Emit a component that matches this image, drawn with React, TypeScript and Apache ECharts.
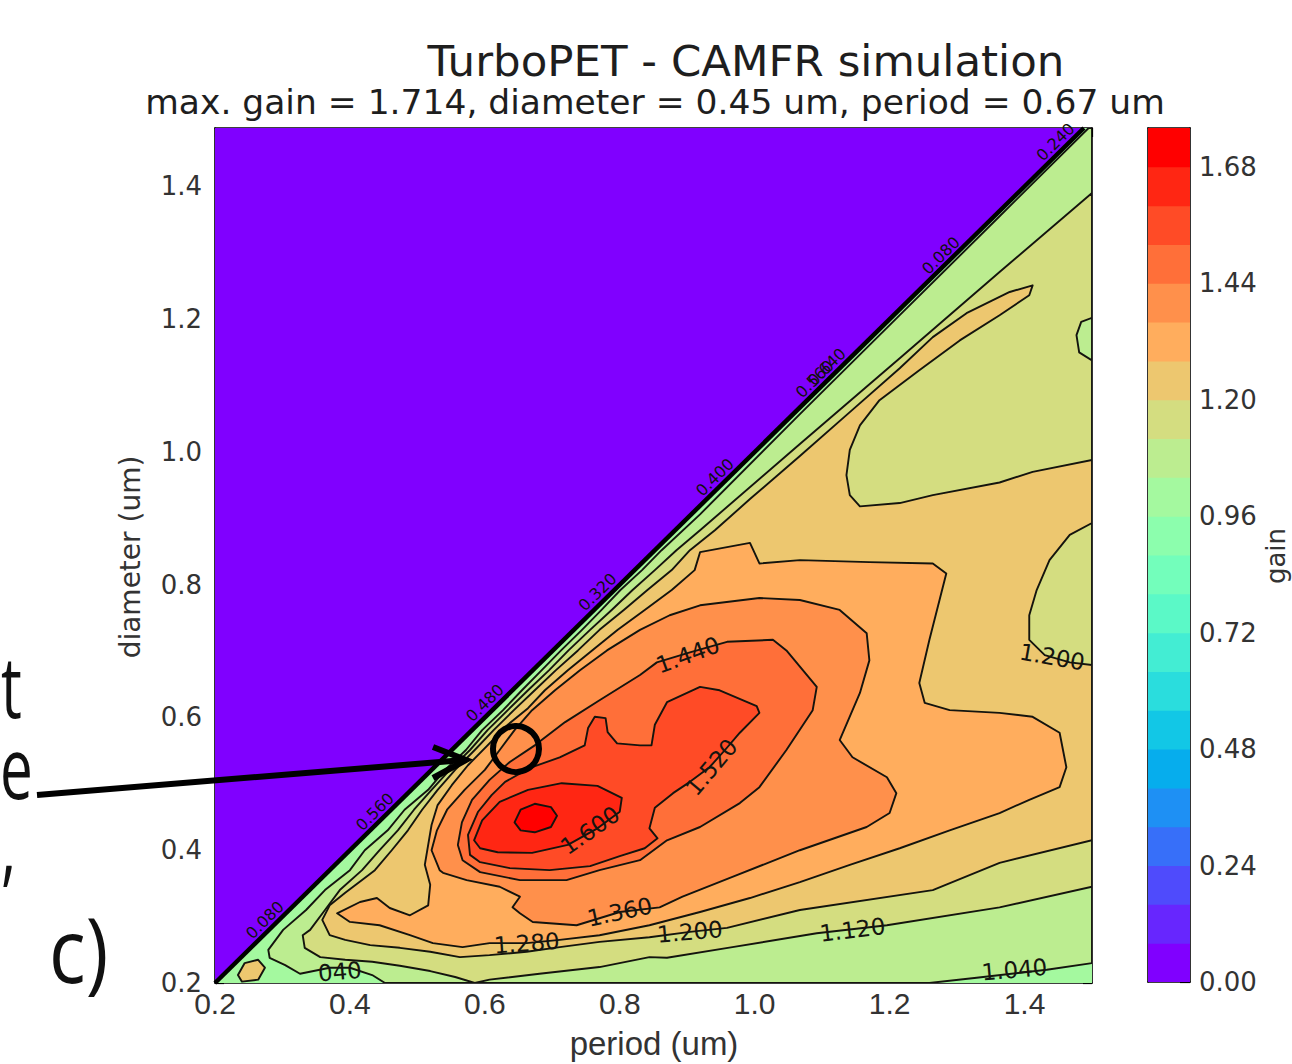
import React, { useEffect, useRef } from "react";
import * as echarts from "echarts";

// ---------------- data (period / diameter in um, gain levels) ----------------
const gainLevels = [0.0, 0.08, 0.16, 0.24, 0.32, 0.4, 0.48, 0.56, 0.64, 0.72, 0.8, 0.88, 0.96, 1.04, 1.12, 1.2, 1.28, 1.36, 1.44, 1.52, 1.6, 1.68, 1.76];
const colorbarTickStep = 0.24;

// region where diameter > period (gain = 0)
const zeroRegion = [[0.2, 0.2], [0.2, 1.488], [1.488, 1.488]];
// remaining valid triangle (lowest visible band)
const lowerRegion = [[0.2, 0.2], [1.488, 1.488], [1.5, 1.488], [1.5, 0.2]];
// converged low-gain contours along the diagonal
const diagonalContour = [[0.2, 0.2], [1.488, 1.488]];

const cornerPatch120 = [[0.234, 0.212], [0.244, 0.23], [0.264, 0.235], [0.274, 0.223], [0.264, 0.205], [0.24, 0.202]];

const region104 = [[1.495, 1.488], [1.5, 1.488], [1.5, 0.23], [1.433, 0.22], [1.329, 0.208], [1.259, 0.2], [0.452, 0.2], [0.433, 0.212], [0.4, 0.223], [0.37, 0.223], [0.326, 0.214], [0.304, 0.227], [0.281, 0.238], [0.279, 0.25], [0.301, 0.28], [0.335, 0.31], [0.363, 0.34], [0.4, 0.37], [0.422, 0.4], [0.456, 0.43], [0.481, 0.461], [0.516, 0.491], [0.541, 0.521], [0.572, 0.551], [0.596, 0.581], [0.627, 0.611], [0.655, 0.641], [0.684, 0.671], [0.713, 0.701], [0.744, 0.732], [0.773, 0.762], [0.801, 0.792], [0.833, 0.822], [0.862, 0.852], [0.919, 0.906], [1.067, 1.057], [1.215, 1.206], [1.363, 1.355]];

const region112 = [[1.5, 1.39], [1.5, 0.345], [1.363, 0.314], [1.196, 0.287], [1.092, 0.275], [0.967, 0.254], [0.87, 0.238], [0.844, 0.239], [0.77, 0.224], [0.681, 0.214], [0.607, 0.205], [0.585, 0.2], [0.556, 0.209], [0.519, 0.218], [0.474, 0.226], [0.433, 0.232], [0.393, 0.235], [0.356, 0.239], [0.333, 0.253], [0.33, 0.272], [0.341, 0.28], [0.363, 0.31], [0.385, 0.34], [0.418, 0.37], [0.444, 0.4], [0.471, 0.43], [0.495, 0.461], [0.521, 0.491], [0.548, 0.521], [0.578, 0.551], [0.604, 0.581], [0.634, 0.611], [0.664, 0.641], [0.695, 0.671], [0.724, 0.701], [0.756, 0.732], [0.788, 0.762], [0.819, 0.792], [0.852, 0.822], [0.884, 0.852], [0.919, 0.882], [1.067, 1.012], [1.215, 1.141], [1.363, 1.271]];

const island104 = [[1.5, 1.202], [1.484, 1.196], [1.477, 1.176], [1.481, 1.15], [1.5, 1.138]];

const region120 = [[1.412, 1.251], [1.378, 1.241], [1.314, 1.209], [1.264, 1.173], [1.215, 1.126], [1.141, 1.06], [1.067, 0.994], [0.993, 0.929], [0.941, 0.882], [0.904, 0.852], [0.877, 0.822], [0.841, 0.792], [0.806, 0.762], [0.77, 0.732], [0.738, 0.701], [0.705, 0.671], [0.674, 0.641], [0.643, 0.611], [0.613, 0.581], [0.585, 0.551], [0.556, 0.521], [0.53, 0.491], [0.507, 0.461], [0.486, 0.43], [0.462, 0.4], [0.437, 0.37], [0.418, 0.355], [0.393, 0.336], [0.37, 0.317], [0.359, 0.295], [0.37, 0.272], [0.393, 0.265], [0.43, 0.257], [0.474, 0.253], [0.519, 0.247], [0.563, 0.239], [0.607, 0.242], [0.662, 0.247], [0.711, 0.254], [0.77, 0.262], [0.844, 0.269], [0.904, 0.277], [0.959, 0.283], [1.067, 0.31], [1.264, 0.34], [1.363, 0.381], [1.5, 0.415], [1.5, 0.679], [1.467, 0.683], [1.43, 0.694], [1.407, 0.717], [1.407, 0.754], [1.418, 0.792], [1.437, 0.837], [1.467, 0.875], [1.5, 0.893], [1.5, 0.988], [1.412, 0.97], [1.363, 0.954], [1.264, 0.935], [1.215, 0.923], [1.156, 0.918], [1.141, 0.935], [1.136, 0.965], [1.141, 1.003], [1.156, 1.04], [1.185, 1.078], [1.244, 1.123], [1.304, 1.168], [1.363, 1.206], [1.407, 1.236]];

const region128 = [[0.381, 0.305], [0.415, 0.322], [0.44, 0.328], [0.459, 0.313], [0.489, 0.302], [0.516, 0.317], [0.519, 0.348], [0.511, 0.378], [0.516, 0.408], [0.521, 0.438], [0.53, 0.468], [0.551, 0.498], [0.575, 0.528], [0.604, 0.558], [0.634, 0.589], [0.664, 0.614], [0.689, 0.641], [0.723, 0.671], [0.759, 0.701], [0.797, 0.732], [0.837, 0.762], [0.877, 0.792], [0.911, 0.822], [0.919, 0.849], [0.993, 0.863], [1.007, 0.832], [1.067, 0.837], [1.17, 0.834], [1.264, 0.832], [1.284, 0.817], [1.274, 0.777], [1.259, 0.717], [1.244, 0.652], [1.252, 0.622], [1.289, 0.611], [1.363, 0.607], [1.412, 0.601], [1.452, 0.577], [1.462, 0.525], [1.452, 0.495], [1.407, 0.476], [1.363, 0.456], [1.289, 0.43], [1.215, 0.403], [1.141, 0.378], [1.067, 0.352], [0.993, 0.328], [0.919, 0.307], [0.844, 0.287], [0.77, 0.272], [0.711, 0.265], [0.662, 0.26], [0.607, 0.26], [0.567, 0.254], [0.523, 0.26], [0.489, 0.272], [0.444, 0.287], [0.4, 0.292]];

const region136 = [[0.533, 0.37], [0.521, 0.4], [0.529, 0.43], [0.544, 0.461], [0.57, 0.491], [0.6, 0.521], [0.622, 0.551], [0.644, 0.581], [0.67, 0.611], [0.704, 0.641], [0.741, 0.671], [0.781, 0.701], [0.83, 0.732], [0.874, 0.754], [0.919, 0.769], [1.007, 0.78], [1.067, 0.777], [1.126, 0.762], [1.166, 0.727], [1.17, 0.686], [1.156, 0.637], [1.126, 0.566], [1.145, 0.54], [1.196, 0.51], [1.21, 0.486], [1.2, 0.456], [1.166, 0.435], [1.067, 0.4], [0.967, 0.36], [0.893, 0.33], [0.859, 0.314], [0.8, 0.307], [0.736, 0.287], [0.671, 0.292], [0.652, 0.305], [0.641, 0.314], [0.652, 0.33], [0.622, 0.345], [0.573, 0.355], [0.538, 0.366]];

const region144 = [[0.56, 0.408], [0.566, 0.442], [0.581, 0.476], [0.607, 0.506], [0.637, 0.533], [0.674, 0.558], [0.719, 0.593], [0.77, 0.626], [0.83, 0.664], [0.855, 0.683], [0.904, 0.698], [0.959, 0.714], [1.027, 0.717], [1.047, 0.701], [1.092, 0.646], [1.086, 0.611], [1.047, 0.551], [1.007, 0.495], [0.978, 0.471], [0.919, 0.435], [0.87, 0.415], [0.83, 0.385], [0.77, 0.37], [0.721, 0.355], [0.652, 0.355], [0.593, 0.367], [0.567, 0.385]];

const region152 = [[0.578, 0.393], [0.575, 0.423], [0.59, 0.458], [0.61, 0.483], [0.63, 0.503], [0.667, 0.524], [0.711, 0.54], [0.748, 0.558], [0.753, 0.584], [0.763, 0.601], [0.779, 0.599], [0.782, 0.578], [0.796, 0.561], [0.83, 0.558], [0.847, 0.558], [0.852, 0.589], [0.87, 0.623], [0.919, 0.646], [0.948, 0.641], [1.003, 0.617], [1.007, 0.607], [0.978, 0.577], [0.956, 0.551], [0.933, 0.525], [0.904, 0.503], [0.879, 0.486], [0.852, 0.464], [0.844, 0.433], [0.856, 0.418], [0.837, 0.403], [0.8, 0.391], [0.756, 0.376], [0.696, 0.37], [0.637, 0.373], [0.593, 0.382]];

const region160 = [[0.584, 0.415], [0.596, 0.445], [0.622, 0.473], [0.664, 0.491], [0.714, 0.501], [0.767, 0.497], [0.803, 0.479], [0.8, 0.458], [0.767, 0.433], [0.723, 0.408], [0.67, 0.396], [0.619, 0.397], [0.593, 0.403]];

const region168 = [[0.644, 0.442], [0.653, 0.461], [0.674, 0.47], [0.698, 0.465], [0.707, 0.452], [0.698, 0.435], [0.674, 0.427], [0.653, 0.43]];

// contour labels
const contourLabelText = ["1.600", "1.520", "1.440", "1.360", "1.280", "1.200", "1.120", "1.040", "1.200", "040"];
const contourLabelPeriod = [0.756, 0.936, 0.901, 0.8, 0.662, 0.904, 1.145, 1.385, 1.441, 0.385];
const contourLabelDiameter = [0.43, 0.525, 0.694, 0.307, 0.26, 0.277, 0.28, 0.22, 0.691, 0.217];
const contourLabelAngle = [35, 50, 20, 12, 4, 5, 7, 5, -10, 5];

// small labels of the converged low contours along the diagonal
const diagLabelText = ["0.240", "0.080", "0.640", "0.560", "0.400", "0.320", "0.480", "0.560", "0.080"];
const diagLabelPeriod = [1.446, 1.276, 1.107, 1.089, 0.941, 0.767, 0.6, 0.437, 0.274];
const diagLabelDiameter = [1.467, 1.296, 1.128, 1.11, 0.962, 0.789, 0.622, 0.458, 0.295];

const titleText = "TurboPET - CAMFR simulation";
const subtitleText = "max. gain = 1.714, diameter = 0.45 um, period = 0.67 um";

// ---------------- styling helpers ----------------
function rainbow(t: number): string {
  const c = (v: number) => Math.max(0, Math.min(1, v));
  const r = c(Math.abs(2 * t - 0.5));
  const g = c(Math.sin(Math.PI * t));
  const b = c(Math.cos((Math.PI * t) / 2));
  return `rgb(${Math.round(r * 255)},${Math.round(g * 255)},${Math.round(b * 255)})`;
}
const nBands = gainLevels.length - 1;
function bandIndex(level: number): number {
  let best = 0;
  gainLevels.forEach((l, i) => {
    if (Math.abs(l - level) < Math.abs(gainLevels[best] - level)) best = i;
  });
  return best;
}
function bandColor(level: number): string {
  return rainbow(bandIndex(level) / (nBands - 1));
}

const patches = [
  { level: 0.0, pts: zeroRegion, line: false },
  { level: 0.96, pts: lowerRegion, line: false },
  { level: 1.2, pts: cornerPatch120, line: true },
  { level: 1.04, pts: region104, line: true },
  { level: 1.12, pts: region112, line: true },
  { level: 1.04, pts: island104, line: true },
  { level: 1.2, pts: region120, line: true },
  { level: 1.28, pts: region128, line: true },
  { level: 1.36, pts: region136, line: true },
  { level: 1.44, pts: region144, line: true },
  { level: 1.52, pts: region152, line: true },
  { level: 1.6, pts: region160, line: true },
  { level: 1.68, pts: region168, line: true },
];

const LINE = "#14140e";

export default function App() {
  const ref = useRef<HTMLDivElement>(null);
  useEffect(() => {
    if (!ref.current) return;
    const chart = echarts.init(ref.current, null, { renderer: "svg" });
    const frameAxis = { show: true, onZero: false, lineStyle: { color: "#000", width: 1.6 } };
    const option: any = {
      animation: false,
      backgroundColor: "#fff",
      grid: [
        { left: 215, top: 128, width: 877, height: 855 },
        { left: 1148, top: 128, width: 42, height: 854 },
      ],
      xAxis: [
        {
          gridIndex: 0, type: "value", min: 0.2, max: 1.5, interval: 0.2, position: "bottom",
          axisLine: frameAxis,
          axisTick: { show: true, inside: true, length: 9, lineStyle: { color: "#000", width: 1.2 } },
          axisLabel: { fontSize: 30, fontFamily: "Liberation Sans", color: "#333", margin: 5, showMaxLabel: false, formatter: (v: number) => v.toFixed(1) },
          splitLine: { show: false },
        },
        {
          gridIndex: 0, type: "value", min: 0.2, max: 1.5, interval: 0.2, position: "top",
          axisLine: frameAxis,
          axisTick: { show: true, inside: true, length: 9, lineStyle: { color: "#000", width: 1.2 } },
          axisLabel: { show: false }, splitLine: { show: false },
        },
        { gridIndex: 1, type: "value", min: 0, max: 1, position: "bottom", axisLine: frameAxis, axisTick: { show: false }, axisLabel: { show: false }, splitLine: { show: false } },
        { gridIndex: 1, type: "value", min: 0, max: 1, position: "top", axisLine: frameAxis, axisTick: { show: false }, axisLabel: { show: false }, splitLine: { show: false } },
      ],
      yAxis: [
        {
          gridIndex: 0, type: "value", min: 0.2, max: 1.488, interval: 0.2, position: "left",
          axisLine: frameAxis,
          axisTick: { show: true, inside: true, length: 9, lineStyle: { color: "#000", width: 1.2 } },
          axisLabel: { fontSize: 26, fontFamily: "DejaVu Sans", color: "#333", margin: 13, showMaxLabel: false, formatter: (v: number) => v.toFixed(1) },
          splitLine: { show: false },
        },
        {
          gridIndex: 0, type: "value", min: 0.2, max: 1.488, interval: 0.2, position: "right",
          axisLine: frameAxis,
          axisTick: { show: true, inside: true, length: 9, lineStyle: { color: "#000", width: 1.2 } },
          axisLabel: { show: false }, splitLine: { show: false },
        },
        {
          gridIndex: 1, type: "value", min: 0, max: 1.76, interval: colorbarTickStep, position: "right",
          axisLine: frameAxis,
          axisTick: { show: true, inside: true, length: 10, lineStyle: { color: "#000", width: 1.2 } },
          axisLabel: { fontSize: 26, fontFamily: "DejaVu Sans", color: "#333", margin: 9, showMaxLabel: false, formatter: (v: number) => v.toFixed(2) },
          splitLine: { show: false },
        },
        { gridIndex: 1, type: "value", min: 0, max: 1.76, position: "left", axisLine: frameAxis, axisTick: { show: false }, axisLabel: { show: false }, splitLine: { show: false } },
      ],
      series: [
        {
          type: "custom", xAxisIndex: 0, yAxisIndex: 0, z: 2, clip: true, silent: true,
          data: patches.map((p, i) => [p.pts[0][0], p.pts[0][1], i]),
          renderItem: (params: any, api: any) => {
            const patch = patches[params.dataIndex];
            return {
              type: "polygon",
              z2: params.dataIndex,
              shape: { points: patch.pts.map((pt) => api.coord(pt)) },
              style: { fill: bandColor(patch.level), stroke: patch.line ? LINE : null, lineWidth: patch.line ? 1.9 : 0, lineJoin: "round" },
            };
          },
        },
        {
          type: "line", xAxisIndex: 0, yAxisIndex: 0, z: 3, silent: true, symbol: "none",
          data: diagonalContour, lineStyle: { color: "#000", width: 4.5 },
        },
        {
          type: "custom", xAxisIndex: 0, yAxisIndex: 0, z: 4, silent: true,
          data: contourLabelText.map((t, i) => [contourLabelPeriod[i], contourLabelDiameter[i]]),
          renderItem: (params: any, api: any) => {
            const i = params.dataIndex;
            const c = api.coord([contourLabelPeriod[i], contourLabelDiameter[i]]);
            return {
              type: "text", x: c[0], y: c[1], rotation: (contourLabelAngle[i] * Math.PI) / 180,
              style: { text: contourLabelText[i], fill: "#151510", fontSize: 23, fontFamily: "DejaVu Sans", align: "center", verticalAlign: "middle" },
            };
          },
        },
        {
          type: "custom", xAxisIndex: 0, yAxisIndex: 0, z: 4, silent: true,
          data: diagLabelText.map((t, i) => [diagLabelPeriod[i], diagLabelDiameter[i]]),
          renderItem: (params: any, api: any) => {
            const i = params.dataIndex;
            const c = api.coord([diagLabelPeriod[i], diagLabelDiameter[i]]);
            return {
              type: "text", x: c[0], y: c[1], rotation: (44.5 * Math.PI) / 180,
              style: { text: diagLabelText[i], fill: "#10100a", fontSize: 16, fontFamily: "DejaVu Sans", align: "center", verticalAlign: "middle" },
            };
          },
        },
        {
          type: "custom", xAxisIndex: 2, yAxisIndex: 2, z: 2, silent: true, clip: true,
          data: gainLevels.slice(0, -1).map((lo, i) => [0.5, lo, i]),
          renderItem: (params: any, api: any) => {
            const i = params.dataIndex;
            const top = api.coord([0, gainLevels[i + 1]]);
            const bot = api.coord([1, gainLevels[i]]);
            return {
              type: "rect",
              shape: { x: top[0], y: top[1] - 0.5, width: bot[0] - top[0], height: bot[1] - top[1] + 1 },
              style: { fill: rainbow(i / (nBands - 1)) },
            };
          },
        },
      ],
      graphic: {
        elements: [
          { type: "text", x: 746, y: 61, z: 100, style: { text: titleText, fontSize: 43.5, fontFamily: "DejaVu Sans", fill: "#1e1e1e", align: "center", verticalAlign: "middle" } },
          { type: "text", x: 655, y: 102, z: 100, style: { text: subtitleText, fontSize: 34.5, fontFamily: "DejaVu Sans", fill: "#1e1e1e", align: "center", verticalAlign: "middle" } },
          { type: "text", x: 654, y: 1043, z: 100, style: { text: "period (um)", fontSize: 33, fontFamily: "Liberation Sans", fill: "#333", align: "center", verticalAlign: "middle" } },
          { type: "text", x: 130, y: 557, z: 100, rotation: Math.PI / 2, style: { text: "diameter (um)", fontSize: 28, fontFamily: "DejaVu Sans", fill: "#333", align: "center", verticalAlign: "middle" } },
          { type: "text", x: 1276, y: 556, z: 100, rotation: Math.PI / 2, style: { text: "gain", fontSize: 26, fontFamily: "DejaVu Sans", fill: "#333", align: "center", verticalAlign: "middle" } },
          { type: "text", x: 1, y: 685, z: 100, scaleX: 0.68, style: { text: "t", fontSize: 86, fontFamily: "Open Sans", fill: "#111", align: "left", verticalAlign: "middle" } },
          { type: "text", x: 0, y: 766, z: 100, scaleX: 0.68, style: { text: "e", fontSize: 86, fontFamily: "Open Sans", fill: "#111", align: "left", verticalAlign: "middle" } },
          { type: "text", x: 1, y: 843, z: 100, scaleX: 0.68, style: { text: ",", fontSize: 86, fontFamily: "Open Sans", fill: "#111", align: "left", verticalAlign: "middle" } },
          { type: "text", x: 49, y: 948, z: 100, scaleX: 0.85, style: { text: "c)", fontSize: 90, fontFamily: "Open Sans", fill: "#111", align: "left", verticalAlign: "middle" } },
          { type: "line", z: 100, shape: { x1: 37, y1: 795, x2: 464, y2: 760 }, style: { stroke: "#000", lineWidth: 6 } },
          { type: "polyline", z: 100, shape: { points: [[433, 747], [466, 760], [433, 778]] }, style: { stroke: "#000", lineWidth: 6, fill: null } },
          { type: "circle", z: 100, shape: { cx: 516, cy: 749, r: 23 }, style: { stroke: "#000", lineWidth: 6, fill: null } },
        ],
      },
    };
    chart.setOption(option);
    return () => chart.dispose();
  }, []);
  return (
    <div
      ref={ref}
      style={{ position: "absolute", left: 0, top: 0, width: 1292, height: 1064, background: "#fff" }}
    />
  );
}
